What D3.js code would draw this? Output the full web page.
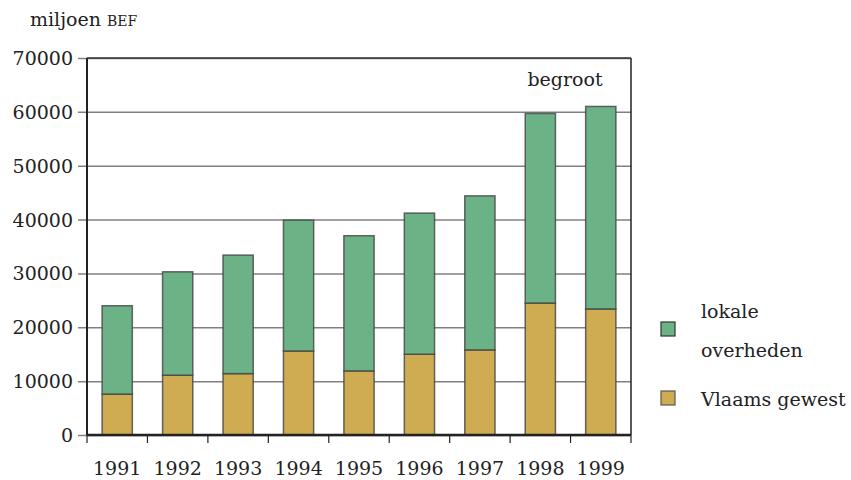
<!DOCTYPE html>
<html>
<head>
<meta charset="utf-8">
<script src="https://cdn.jsdelivr.net/npm/d3@7"></script>
<style>
  body { margin: 0; background: #fff; }
  svg text { font-family: "DejaVu Serif", serif; fill: #222; }
</style>
</head>
<body>
<div class="holder"></div>
<script>
var years = ['1991', '1992', '1993', '1994', '1995', '1996', '1997', '1998', '1999']
var vlaams = [7600, 11100, 11400, 15600, 11900, 15000, 15800, 24500, 23400]
var lokale = [16400, 19200, 22000, 24300, 25100, 26200, 28600, 35200, 37600]
var yTicks = [0, 10000, 20000, 30000, 40000, 50000, 60000, 70000]

var width = 851,
    height = 480,
    plotLeft = 87,
    plotRight = 631,
    plotTop = 58,
    plotBottom = 435

var chart = d3.select('.holder')
  .append('svg')
  .attr('width', width)
  .attr('height', height)

var xScale = d3.scaleBand()
  .domain(years)
  .range([plotLeft, plotRight])
  .paddingInner(0.5)
  .paddingOuter(0.25)

var yScale = d3.scaleLinear()
  .domain([0, 70000])
  .range([plotBottom, plotTop])

// gridlines + left ticks
var yAxis = d3.axisLeft(yScale)
  .tickValues(yTicks)
  .tickSize(-(plotRight - plotLeft))
  .tickFormat('')

var yChart = chart.append('g')
  .attr('transform', 'translate(' + plotLeft + ',0)')
  .call(yAxis)
yChart.select('.domain').remove()
yChart.selectAll('.tick line')
  .attr('x1', -9)
  .attr('stroke', '#808080')
  .attr('stroke-width', 1.5)

// y labels
chart.selectAll('.ylab')
  .data(yTicks)
  .enter()
  .append('text')
  .attr('class', 'ylab')
  .attr('x', 73)
  .attr('y', function (d) { return yScale(d) + 7 })
  .attr('text-anchor', 'end')
  .style('font-size', '19px')
  .text(function (d) { return d })

// stacked bars
var rows = years.map(function (y, i) {
  return { year: y, vlaams: vlaams[i], lokale: lokale[i] }
})
var stack = d3.stack().keys(['vlaams', 'lokale'])
var color = { vlaams: '#cfab52', lokale: '#6bb386' }

var layers = chart.selectAll('.layer')
  .data(stack(rows))
  .enter()
  .append('g')
  .attr('class', 'layer')
  .attr('fill', function (d) { return color[d.key] })

layers.selectAll('rect')
  .data(function (d) { return d })
  .enter()
  .append('rect')
  .attr('x', function (d) { return xScale(d.data.year) })
  .attr('width', xScale.bandwidth())
  .attr('y', function (d) { return yScale(d[1]) })
  .attr('height', function (d) { return yScale(d[0]) - yScale(d[1]) })
  .attr('stroke', '#444')
  .attr('stroke-opacity', 0.8)
  .attr('stroke-width', 1.5)

// frame: left axis, top line, right line
chart.append('line')
  .attr('x1', plotLeft).attr('x2', plotLeft)
  .attr('y1', plotTop).attr('y2', plotBottom)
  .attr('stroke', '#222').attr('stroke-width', 2)
chart.append('line')
  .attr('x1', plotRight).attr('x2', plotRight)
  .attr('y1', plotTop).attr('y2', plotBottom)
  .attr('stroke', '#222').attr('stroke-width', 1.5)
chart.append('line')
  .attr('x1', plotLeft).attr('x2', plotRight)
  .attr('y1', plotTop).attr('y2', plotTop)
  .attr('stroke', '#333').attr('stroke-width', 1.5)

// x axis
var xAxis = d3.axisBottom(xScale).tickSize(0).tickFormat('')
var xChart = chart.append('g')
  .attr('transform', 'translate(0,' + plotBottom + ')')
  .call(xAxis)
xChart.select('.domain')
  .attr('stroke', '#222')
  .attr('stroke-width', 2.5)
  .attr('d', 'M' + plotLeft + ',0H' + plotRight)

var step = xScale.step()
xChart.selectAll('.sep')
  .data(d3.range(years.length + 1))
  .enter()
  .append('line')
  .attr('x1', function (d) { return plotLeft + d * step })
  .attr('x2', function (d) { return plotLeft + d * step })
  .attr('y1', 0)
  .attr('y2', 8)
  .attr('stroke', '#222')
  .attr('stroke-width', 1.2)

chart.selectAll('.xlab')
  .data(years)
  .enter()
  .append('text')
  .attr('class', 'xlab')
  .attr('x', function (d) { return xScale(d) + xScale.bandwidth() / 2 })
  .attr('y', 475)
  .attr('text-anchor', 'middle')
  .style('font-size', '19px')
  .text(function (d) { return d })

// unit label
var unit = chart.append('text')
  .attr('x', 30)
  .attr('y', 26)
  .style('font-size', '19px')
unit.append('tspan').text('miljoen ')
unit.append('tspan').style('font-size', '14px').text('BEF')

chart.append('text')
  .attr('x', 565)
  .attr('y', 86)
  .attr('text-anchor', 'middle')
  .style('font-size', '19px')
  .text('begroot')

// legend
var legend = chart.append('g').attr('id', 'legend')
legend.append('rect')
  .attr('x', 661).attr('y', 322).attr('width', 14).attr('height', 14)
  .attr('fill', color.lokale).attr('stroke', '#333').attr('stroke-width', 1.2)
legend.append('rect')
  .attr('x', 661).attr('y', 391).attr('width', 14).attr('height', 14)
  .attr('fill', color.vlaams).attr('stroke', '#555').attr('stroke-width', 1.2)
legend.append('text').attr('x', 701).attr('y', 318).style('font-size', '19px').text('lokale')
legend.append('text').attr('x', 701).attr('y', 357).style('font-size', '19px').text('overheden')
legend.append('text').attr('x', 701).attr('y', 406).style('font-size', '19px').text('Vlaams gewest')
</script>
</body>
</html>
